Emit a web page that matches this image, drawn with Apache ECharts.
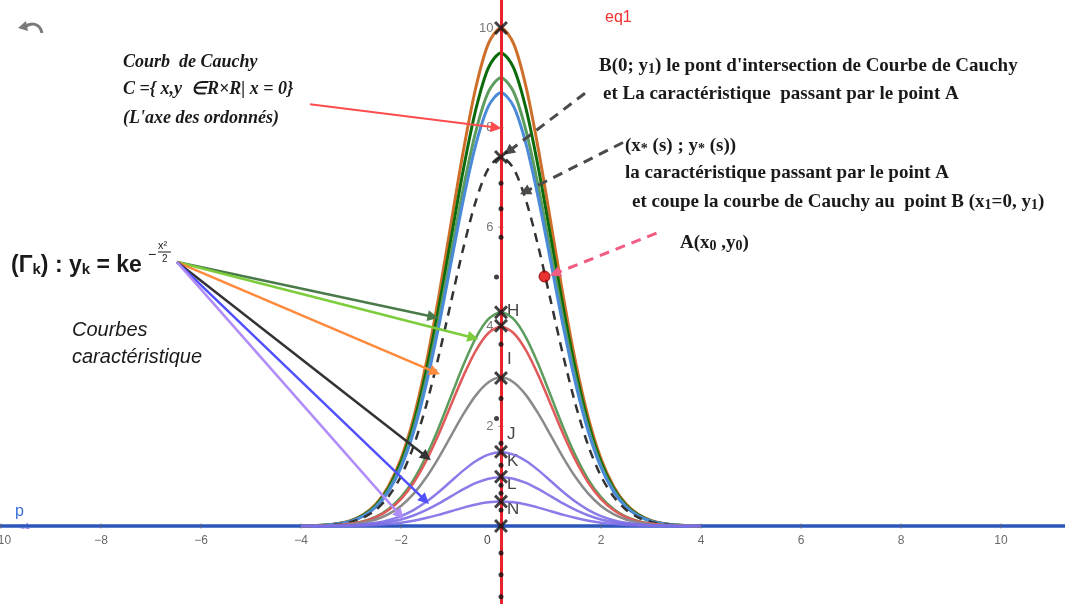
<!DOCTYPE html>
<html>
<head>
<meta charset="utf-8">
<script src="https://cdn.jsdelivr.net/npm/echarts@6/dist/echarts.min.js"></script>
<style>
  html, body { margin: 0; padding: 0; background: #fff; }
  #chart { width: 1065px; height: 604px; }
</style>
</head>
<body>
<div id="chart"></div>
<script>
// x positions where the curves were read
const xs = [-4, -3.75, -3.5, -3.25, -3, -2.75, -2.5, -2.25, -2, -1.75, -1.5, -1.25, -1, -0.75, -0.5, -0.25,
  0, 0.25, 0.5, 0.75, 1, 1.25, 1.5, 1.75, 2, 2.25, 2.5, 2.75, 3, 3.25, 3.5, 3.75, 4];
// shape of the top (orange) curve, divided by its peak
const profile = [0, 0.001, 0.002, 0.005, 0.011, 0.023, 0.044, 0.080, 0.135, 0.216, 0.325, 0.458, 0.607, 0.755, 0.882, 0.969,
  1, 0.969, 0.882, 0.755, 0.607, 0.458, 0.325, 0.216, 0.135, 0.080, 0.044, 0.023, 0.011, 0.005, 0.002, 0.001, 0];

// one curve per k (peak read on the y axis)
const curveNames = ['k=10', 'k=9.5', 'k=9', 'k=8.7', 'B', 'H', 'k=4', 'I', 'K', 'L', 'N'];
const curvePeaks = [10, 9.5, 9.0, 8.7, 7.41, 4.29, 4.0, 2.98, 1.48, 0.98, 0.49];

// crosses and small dots on the y axis
const crossY = [10, 7.41, 4.29, 4.02, 2.97, 1.49, 0.99, 0.49, 0];
const dotX = [0, 0, 0, -0.09, 0, 0, -0.09, 0, 0, 0, 0, 0, 0, 0, 0];
const dotY = [6.88, 6.37, 5.8, 5.0, 3.65, 2.56, 2.16, 1.66, 1.22, 0.82, 0.66, 0.32, -0.54, -0.98, -1.42];
const pointA = [0.87, 5.01];

// tick labels
const xTicks = [-10, -8, -6, -4, -2, 2, 4, 6, 8, 10];
const yTicks = [2, 4, 6, 8, 10];

// annotation arrows, in axis units
const arrowFrom = [[-6.48, 5.3], [-6.48, 5.3], [-6.48, 5.3], [-6.48, 5.3], [-6.48, 5.3], [-6.48, 5.3],
  [-3.82, 8.47], [1.68, 8.69], [2.44, 7.7], [3.11, 5.88]];
const arrowTo = [[-1.36, 4.2], [-0.56, 3.78], [-1.32, 3.09], [-1.49, 1.39], [-1.52, 0.52], [-2.02, 0.22],
  [-0.1, 8.0], [0.15, 7.52], [0.48, 6.71], [1.08, 5.07]];

const curveStyles = [
  {color: '#cd6f2a', width: 3},
  {color: '#0b6b0b', width: 3},
  {color: '#5c9c5c', width: 3},
  {color: '#4a8ad8', width: 3},
  {color: '#333333', width: 2.5, type: [9, 7]},
  {color: '#5c9c5c', width: 2.5},
  {color: '#e05a5a', width: 2.5},
  {color: '#8a8a8a', width: 2.5},
  {color: '#7d6ee6', width: 2.5, opacity: 0.9},
  {color: '#7d6ee6', width: 2.5, opacity: 0.9},
  {color: '#7d6ee6', width: 2.5, opacity: 0.9}
];
const arrowStyles = [
  {color: '#4a7a4a', width: 2.5, type: 'solid'},
  {color: '#7ccc3c', width: 2.5, type: 'solid'},
  {color: '#ff8a3c', width: 2.5, type: 'solid'},
  {color: '#333333', width: 2.5, type: 'solid'},
  {color: '#5050ff', width: 2.5, type: 'solid'},
  {color: '#b08cf8', width: 2.5, type: 'solid'},
  {color: '#ff4d4d', width: 2, type: 'solid'},
  {color: '#4a4a4a', width: 3, type: [10, 7]},
  {color: '#4a4a4a', width: 3, type: [10, 7]},
  {color: '#f25c82', width: 3, type: [10, 7]}
];

const serif = '"Liberation Serif", "Times New Roman", serif';
const sans = '"Liberation Sans", Arial, sans-serif';
const crossPath = 'path://M1.5,0 L5,3.5 L8.5,0 L10,1.5 L6.5,5 L10,8.5 L8.5,10 L5,6.5 L1.5,10 L0,8.5 L3.5,5 L0,1.5 Z';

const chart = echarts.init(document.getElementById('chart'));

const curveSeries = curvePeaks.map((k, i) => ({
  name: curveNames[i],
  type: 'line',
  smooth: 0.3,
  showSymbol: false,
  silent: true,
  data: xs.map((x, j) => [x, k * profile[j]]),
  lineStyle: curveStyles[i],
  z: 2
}));

const serifRich = (size) => ({
  n: {fontFamily: serif, fontWeight: 'bold', fontSize: size, lineHeight: 24, verticalAlign: 'bottom', color: '#1a1a1a'},
  s: {fontFamily: serif, fontWeight: 'bold', fontSize: size - 5, lineHeight: 13, verticalAlign: 'bottom', color: '#1a1a1a'}
});

const txt = (x, y, text, extra) => ({
  type: 'text', x: x, y: y, silent: true,
  style: Object.assign({text: text, align: 'left', verticalAlign: 'middle', fill: '#1a1a1a'}, extra)
});

const option = {
  animation: false,
  backgroundColor: '#ffffff',
  grid: {left: 0, right: 0, top: 0, bottom: 0, containLabel: false, outerBoundsMode: 'none'},
  xAxis: {
    type: 'value', min: -10.02, max: 11.28,
    axisLine: {onZero: true, lineStyle: {color: '#2b56bb', width: 3.5}},
    axisTick: {show: false},
    axisLabel: {show: false},
    splitLine: {show: false},
    z: 1
  },
  yAxis: {
    type: 'value', min: -1.566, max: 10.562,
    axisLine: {onZero: true, lineStyle: {color: '#e8232a', width: 3}},
    axisTick: {show: false},
    axisLabel: {show: false},
    splitLine: {show: false},
    z: 3
  },
  series: curveSeries.concat([
    {
      name: 'x ticks', type: 'scatter', silent: true, z: 1,
      symbol: 'rect', symbolSize: [1, 5], itemStyle: {color: '#666'},
      data: xTicks.map(x => [x, 0]),
      label: {
        show: true, position: 'bottom', distance: 6, color: '#444', fontSize: 12, fontFamily: sans,
        formatter: p => String(p.value[0]).replace('-', '\u2212')
      }
    },
    {
      name: 'y ticks', type: 'scatter', silent: true, z: 1,
      symbol: 'rect', symbolSize: [5, 1], itemStyle: {color: '#666'},
      data: yTicks.map(y => [0, y]),
      label: {
        show: true, position: 'left', distance: 5, color: '#555', fontSize: 13, fontFamily: sans,
        formatter: p => String(p.value[1])
      }
    },
    {
      name: 'arrows', type: 'line', data: [], silent: true, z: 4,
      markLine: {
        silent: true, animation: false,
        symbol: ['none', 'triangle'], symbolSize: 11,
        label: {show: false},
        data: arrowFrom.map((p, i) => [
          {coord: p, lineStyle: arrowStyles[i], itemStyle: {color: arrowStyles[i].color}},
          {coord: arrowTo[i]}
        ])
      }
    },
    {
      name: 'dots', type: 'scatter', silent: true, z: 5,
      symbolSize: 5, itemStyle: {color: '#111'},
      data: dotY.map((y, i) => [dotX[i], y])
    },
    {
      name: 'crosses', type: 'scatter', silent: true, z: 6,
      symbol: crossPath, symbolSize: 14, itemStyle: {color: '#111'},
      data: crossY.map(y => [0, y])
    },
    {
      name: 'A', type: 'scatter', silent: true, z: 6,
      symbolSize: 11, itemStyle: {color: '#e30000', borderColor: '#700', borderWidth: 1},
      data: [pointA]
    }
  ]),
  graphic: [
    // undo icon
    {type: 'bezierCurve', silent: true,
      shape: {x1: 25, y1: 27, cpx1: 31, cpy1: 22, cpx2: 40, cpy2: 23, x2: 42, y2: 33},
      style: {stroke: '#7a7a7a', lineWidth: 3, fill: null}},
    {type: 'polygon', silent: true, shape: {points: [[18, 28], [26, 21], [28, 31]]}, style: {fill: '#7a7a7a'}},

    txt(605, 18, 'eq1', {fontFamily: sans, fontSize: 16, fill: '#f03030'}),
    txt(484, 541, '0', {fontFamily: sans, fontSize: 12, fill: '#444'}),
    txt(15, 512, 'p', {fontFamily: sans, fontSize: 16, fill: '#3a6fd8'}),
    txt(20, 527, 'u1', {fontFamily: sans, fontSize: 9, fill: '#a07ae8'}),

    txt(123, 62, 'Courb  de Cauchy', {fontFamily: serif, fontStyle: 'italic', fontWeight: 'bold', fontSize: 18}),
    txt(123, 89, 'C ={ x,y  \u2208R\u00d7R| x = 0}', {fontFamily: serif, fontStyle: 'italic', fontWeight: 'bold', fontSize: 18}),
    txt(123, 118, "(L'axe des ordonn\u00e9s)", {fontFamily: serif, fontStyle: 'italic', fontWeight: 'bold', fontSize: 18}),

    txt(599, 64, "{n|B(0; y}{s|1}{n|) le pont d'intersection de Courbe de Cauchy}", {rich: serifRich(19)}),
    txt(603, 92, '{n|et La caract\u00e9ristique  passant par le point A}', {rich: serifRich(19)}),
    txt(625, 144, '{n|(x}{s|*}{n| (s) ; y}{s|*}{n| (s))}', {rich: serifRich(19)}),
    txt(625, 171, '{n|la caract\u00e9ristique passant par le point A}', {rich: serifRich(19)}),
    txt(632, 200, '{n|et coupe la courbe de Cauchy au  point B (x}{s|1}{n|=0, y}{s|1}{n|)}', {rich: serifRich(19)}),
    txt(680, 241, '{n|A(x}{s|0}{n| ,y}{s|0}{n|)}', {rich: serifRich(19)}),

    txt(11, 263, '{b|(\u0393}{s|k}{b|) : y}{s|k}{b| = ke}', {rich: {
      b: {fontFamily: sans, fontWeight: 'bold', fontSize: 23, lineHeight: 28, verticalAlign: 'bottom', color: '#1a1a1a'},
      s: {fontFamily: sans, fontWeight: 'bold', fontSize: 15, lineHeight: 14, verticalAlign: 'bottom', color: '#1a1a1a'}
    }}),
    txt(148, 255, '\u2212', {fontFamily: sans, fontSize: 14, fill: '#1a1a1a'}),
    txt(158, 246, 'x\u00b2', {fontFamily: sans, fontSize: 11, fill: '#1a1a1a'}),
    {type: 'line', silent: true, shape: {x1: 158, y1: 252, x2: 171, y2: 252}, style: {stroke: '#1a1a1a', lineWidth: 1}},
    txt(162, 259, '2', {fontFamily: sans, fontSize: 10, fill: '#1a1a1a'}),

    txt(72, 330, 'Courbes', {fontFamily: sans, fontStyle: 'italic', fontSize: 20, fill: '#1a1a1a'}),
    txt(72, 357, 'caract\u00e9ristique', {fontFamily: sans, fontStyle: 'italic', fontSize: 20, fill: '#1a1a1a'}),

    txt(507, 311, 'H', {fontFamily: sans, fontSize: 17, fill: '#444'}),
    txt(507, 359, 'I', {fontFamily: sans, fontSize: 17, fill: '#444'}),
    txt(507, 434, 'J', {fontFamily: sans, fontSize: 17, fill: '#444'}),
    txt(507, 461, 'K', {fontFamily: sans, fontSize: 17, fill: '#444'}),
    txt(507, 484, 'L', {fontFamily: sans, fontSize: 17, fill: '#444'}),
    txt(507, 509, 'N', {fontFamily: sans, fontSize: 17, fill: '#444'})
  ]
};

chart.setOption(option);
</script>
</body>
</html>
